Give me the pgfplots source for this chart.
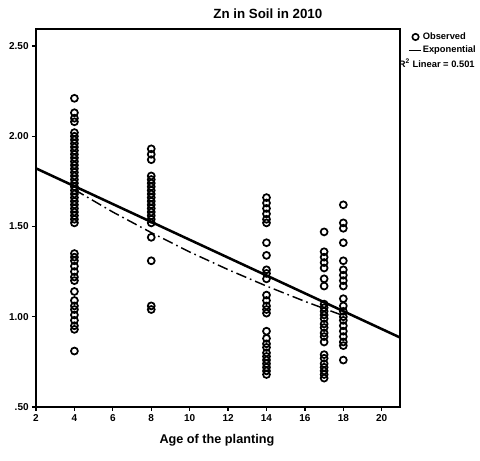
\documentclass[border=0pt]{standalone}
\usepackage{pgfplots}
\pgfplotsset{compat=1.18}
\usepackage{fontspec}
\setmainfont{Liberation Sans}
\begin{document}
\begin{tikzpicture}
\path[use as bounding box] (-27pt,-40.5pt) rectangle (333pt,305.25pt);
\begin{axis}[
  at={(0,0)}, anchor=south west,
  scale only axis,
  width=273pt, height=283.5pt,
  xmin=2, xmax=20.95, ymin=0.5, ymax=2.594,
  xtick={2,4,...,20},
  ytick={0.5,1,1.5,2,2.5},
  yticklabels={.50,1.00,1.50,2.00,2.50},
  tick align=outside,
  major tick length=3pt,
  tick style={black, line width=1pt},
  axis line style={black, line width=1.3pt},
  ticklabel style={font=\fontsize{7.5}{8}\selectfont\bfseries},
  /pgf/number format/assume math mode=true,
  xtick pos=bottom, ytick pos=left,
  xticklabel style={yshift=1pt},
  yticklabel style={xshift=1pt},
  clip=false,
  legend style={at={(1,1)}, anchor=north west, xshift=6pt, yshift=-1.5pt,
    draw=none, fill=none, inner sep=0pt, row sep=1.5pt,
    font=\fontsize{7}{8}\selectfont\bfseries,
    nodes={inner sep=1pt}},
  legend cell align=left,
]
% Observed
\addplot[only marks, mark=o, mark size=2.6pt, mark options={line width=1.3pt, black},
  legend image code/.code={\draw[mark=o, mark size=2.4pt, mark options={line width=1.2pt}] plot coordinates {(4pt,0pt)};}]
coordinates {
(4,2.21) (4,2.13) (4,2.10) (4,2.08) (4,2.02) (4,2.00) (4,1.98) (4,1.96) (4,1.94) (4,1.92)
(4,1.90) (4,1.88) (4,1.86) (4,1.84) (4,1.82) (4,1.80) (4,1.78) (4,1.76) (4,1.74) (4,1.72)
(4,1.70) (4,1.68) (4,1.66) (4,1.64) (4,1.62) (4,1.60) (4,1.58) (4,1.56) (4,1.54) (4,1.52)
(4,1.35) (4,1.33) (4,1.31) (4,1.28) (4,1.25) (4,1.22) (4,1.20) (4,1.14) (4,1.09) (4,1.06)
(4,1.04) (4,1.01) (4,0.98) (4,0.95) (4,0.93) (4,0.81)
(8,1.93) (8,1.90) (8,1.87) (8,1.78) (8,1.76) (8,1.74) (8,1.72) (8,1.70) (8,1.68) (8,1.66)
(8,1.64) (8,1.62) (8,1.60) (8,1.58) (8,1.56) (8,1.54) (8,1.52) (8,1.44) (8,1.31) (8,1.06) (8,1.04)
(14,1.66) (14,1.63) (14,1.60) (14,1.57) (14,1.54) (14,1.52) (14,1.41) (14,1.34) (14,1.26) (14,1.24)
(14,1.21) (14,1.12) (14,1.09) (14,1.06) (14,1.04) (14,1.02) (14,0.92) (14,0.88) (14,0.85) (14,0.83)
(14,0.80) (14,0.78) (14,0.76) (14,0.74) (14,0.72) (14,0.70) (14,0.68)
(17,1.47) (17,1.36) (17,1.33) (17,1.30) (17,1.27) (17,1.21) (17,1.17) (17,1.07) (17,1.05) (17,1.03)
(17,1.01) (17,0.99) (17,0.96) (17,0.94) (17,0.91) (17,0.89) (17,0.86) (17,0.79) (17,0.77) (17,0.74)
(17,0.72) (17,0.70) (17,0.68) (17,0.66)
(18,1.62) (18,1.52) (18,1.49) (18,1.41) (18,1.31) (18,1.26) (18,1.23) (18,1.20) (18,1.17) (18,1.10)
(18,1.06) (18,1.03) (18,1.00) (18,0.98) (18,0.95) (18,0.92) (18,0.89) (18,0.86) (18,0.84) (18,0.76)
};
\addlegendentry{Observed}
% Exponential fit
\addplot[black, line width=1.1pt, dash pattern=on 8pt off 3pt on 1.2pt off 3pt,
  legend image code/.code={\draw[solid, line width=0.9pt] (-1pt,0pt) -- (8pt,0pt);}]
coordinates {(4,1.704) (6,1.580) (8,1.466) (10,1.359) (12,1.261) (14,1.170) (16,1.085) (18,1.006)};
\addlegendentry{Exponential}
% Linear fit
\addplot[black, line width=1.9pt, forget plot] coordinates {(2,1.822) (20.95,0.885)};
\node[anchor=west, font=\fontsize{7}{8}\selectfont\bfseries, inner sep=0pt] at ([xshift=-1pt,yshift=-25.5pt]rel axis cs:1,1) {R$^{\mathbf{2}}$ Linear = 0.501};
\node[font=\fontsize{10}{12}\selectfont\bfseries, anchor=base] at ([yshift=7.5pt]rel axis cs:0.637,1) {Zn in Soil in 2010};
\node[font=\fontsize{9.5}{11}\selectfont\bfseries] at ([yshift=-25pt]rel axis cs:0.497,0) {Age of the planting};
\end{axis}
\end{tikzpicture}
\end{document}
